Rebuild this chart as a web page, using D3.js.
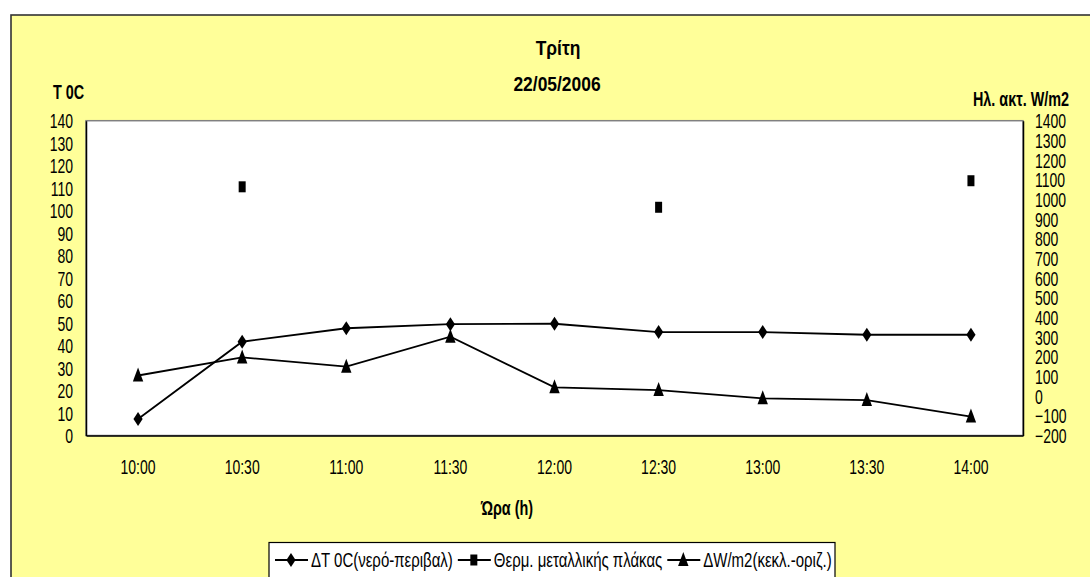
<!DOCTYPE html>
<html>
<head>
<meta charset="utf-8">
<script src="https://cdn.jsdelivr.net/npm/d3@7"></script>
<style>
  html, body { margin: 0; padding: 0; background: #ffffff; }
  svg { display: block; }
  text { font-family: "Liberation Sans", Arial, sans-serif; fill: #000; }
</style>
</head>
<body>
<svg id="chart" width="1090" height="577"></svg>
<script>
// Measurement times (x categories)
const times = ["10:00", "10:30", "11:00", "11:30", "12:00", "12:30", "13:00", "13:30", "14:00"];

// ΔT water vs ambient, °C (left axis)
const deltaT = [7.3, 41.7, 47.7, 49.5, 49.7, 46.0, 46.0, 44.8, 44.8];

// Metal plate temperature, °C (left axis) — only three readings
const plateTemp = [null, 110.6, null, null, null, 101.5, null, null, 113.3];

// ΔW/m2 tilted minus horizontal radiation (right axis)
const deltaW = [105, 197, 150, 302, 45, 31, -11, -20, -104];

const seriesNames = ["ΔT 0C(νερό-περιβαλ)", "Θερμ. μεταλλικής πλάκας", "ΔW/m2(κεκλ.-οριζ.)"];

const leftTicks = d3.range(0, 141, 10);
const rightTicks = d3.range(-200, 1401, 100);

const titleLines = ["Τρίτη", "22/05/2006"];
const leftAxisTitle = "T 0C";
const rightAxisTitle = "Ηλ. ακτ. W/m2";
const xAxisTitle = "Ώρα (h)";

// ---- layout ----
const W = 1090, H = 577;
const plot = { left: 86, top: 120.7, right: 1023, bottom: 435.5 };
const SX = 0.70;   // horizontal condensing of the narrow chart lettering
const LEG_SX = 0.75;

const svg = d3.select("#chart");

// chart area
svg.append("rect")
  .attr("x", 11).attr("y", 15)
  .attr("width", W + 20).attr("height", H + 20)
  .attr("fill", "#ffff99")
  .attr("stroke", "#333333").attr("stroke-width", 1.6);

// plot area
svg.append("rect")
  .attr("x", plot.left).attr("y", plot.top)
  .attr("width", plot.right - plot.left).attr("height", plot.bottom - plot.top)
  .attr("fill", "#ffffff")
  .attr("stroke", "#808080").attr("stroke-width", 1.5);

const x = d3.scaleBand().domain(times).range([plot.left, plot.right]);
const yL = d3.scaleLinear().domain([0, 140]).range([plot.bottom, plot.top]);
const yR = d3.scaleLinear().domain([-200, 1400]).range([plot.bottom, plot.top]);
const cx = t => x(t) + x.bandwidth() / 2;

function condense(sel, dx, sx) {
  sel.each(function () {
    const t = d3.select(this);
    t.attr("x", null).attr("dy", "0.35em")
     .attr("transform", `translate(${dx},0) scale(${sx},1)`);
  });
}

// left axis
const gL = svg.append("g").attr("transform", `translate(${plot.left},0)`)
  .call(d3.axisLeft(yL).tickValues(leftTicks).tickSize(0).tickFormat(d3.format("d")));
gL.select(".domain").attr("stroke", "#000").attr("stroke-width", 1.5);
gL.selectAll("text").attr("font-size", 20);
condense(gL.selectAll("text"), -13, SX);

// right axis
const gR = svg.append("g").attr("transform", `translate(${plot.right},0)`)
  .call(d3.axisRight(yR).tickValues(rightTicks).tickSize(0).tickFormat(d3.format("d")));
gR.select(".domain").attr("stroke", "#000").attr("stroke-width", 1.5);
gR.selectAll("text").attr("font-size", 20);
condense(gR.selectAll("text"), 12, SX);

// bottom axis
const gB = svg.append("g").attr("transform", `translate(0,${plot.bottom})`)
  .call(d3.axisBottom(x).tickSize(0));
gB.select(".domain").attr("stroke", "#000").attr("stroke-width", 1.5);
gB.selectAll("text").attr("font-size", 20)
  .each(function () {
    d3.select(this).attr("y", null).attr("dy", "0.35em")
      .attr("transform", `translate(0,31.5) scale(${SX},1)`);
  });

// titles
function label(txt, px, py, opts) {
  const o = Object.assign({ size: 20, weight: "normal", anchor: "middle", sx: SX }, opts || {});
  svg.append("text")
    .attr("transform", `translate(${px},${py}) scale(${o.sx},1)`)
    .attr("dy", "0.35em")
    .attr("text-anchor", o.anchor)
    .attr("font-size", o.size)
    .attr("font-weight", o.weight)
    .text(txt);
}
label(titleLines[0], 558, 48, { size: 21, weight: "bold", sx: 0.83 });
label(titleLines[1], 557, 84, { size: 21, weight: "bold", sx: 0.83 });
label(leftAxisTitle, 53, 92, { weight: "bold", anchor: "start", sx: 0.72 });
label(rightAxisTitle, 1069, 99, { weight: "bold", anchor: "end", sx: 0.72 });
label(xAxisTitle, 507, 508, { weight: "bold", sx: 0.72 });

// markers
const diamond = "M0,-7L4.6,0L0,7L-4.6,0Z";
const triangle = "M0,-8L5.2,6L-5.2,6Z";
const square = "M-3.5,-5.5L3.5,-5.5L3.5,5.5L-3.5,5.5Z";

const series = [
  { name: seriesNames[0], values: deltaT, y: yL, marker: diamond },
  { name: seriesNames[1], values: plateTemp, y: yL, marker: square },
  { name: seriesNames[2], values: deltaW, y: yR, marker: triangle }
];

series.forEach(s => {
  const pts = times.map((t, i) => ({ t, v: s.values[i] }));
  const line = d3.line()
    .defined(d => d.v !== null)
    .x(d => cx(d.t))
    .y(d => s.y(d.v));
  svg.append("path")
    .datum(pts)
    .attr("fill", "none")
    .attr("stroke", "#000")
    .attr("stroke-width", 1.8)
    .attr("d", line);
  svg.append("g").selectAll("path")
    .data(pts.filter(d => d.v !== null))
    .join("path")
    .attr("transform", d => `translate(${cx(d.t)},${s.y(d.v)})`)
    .attr("d", s.marker)
    .attr("fill", "#000");
});

// legend
const leg = svg.append("g");
leg.append("rect")
  .attr("x", 269).attr("y", 542.5)
  .attr("width", 566).attr("height", 60)
  .attr("fill", "#ffffff")
  .attr("stroke", "#000").attr("stroke-width", 1.2);
let lx = 275;
const ly = 560;
series.forEach(s => {
  leg.append("line")
    .attr("x1", lx).attr("x2", lx + 33)
    .attr("y1", ly).attr("y2", ly)
    .attr("stroke", "#000").attr("stroke-width", 1.8);
  leg.append("path")
    .attr("transform", `translate(${lx + 16},${ly})`)
    .attr("d", s.marker).attr("fill", "#000");
  const t = leg.append("text")
    .attr("transform", `translate(${lx + 36},${ly}) scale(${LEG_SX},1)`)
    .attr("dy", "0.35em")
    .attr("font-size", 20)
    .text(s.name);
  lx += 36 + t.node().getComputedTextLength() * LEG_SX + 5;
});
</script>
</body>
</html>
